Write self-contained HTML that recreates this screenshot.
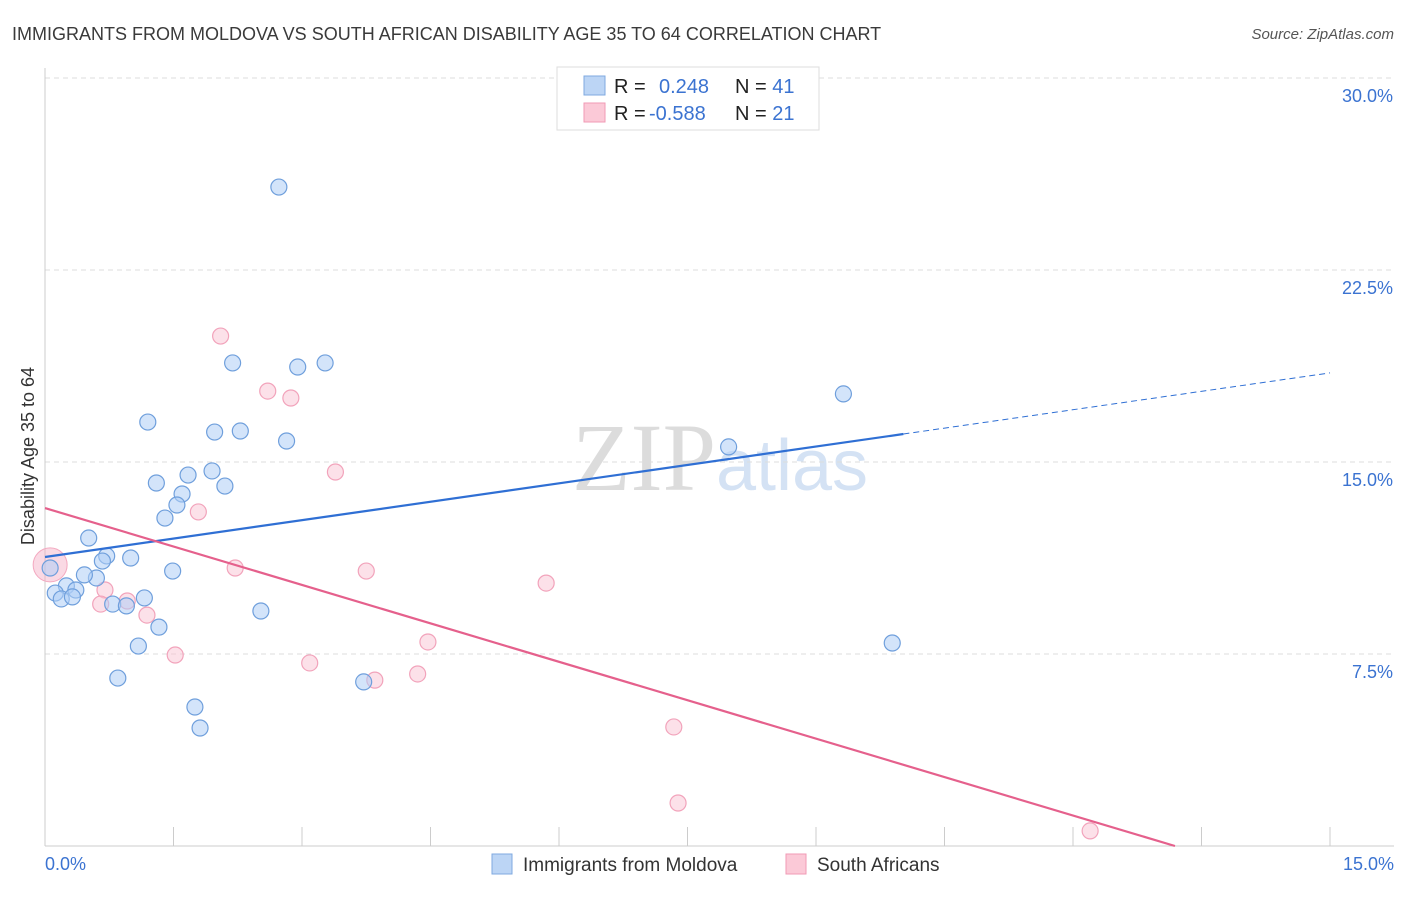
<!DOCTYPE html>
<html><head><meta charset="utf-8"><style>
body{margin:0;background:#fff;font-family:"Liberation Sans",sans-serif;}
svg text{font-family:"Liberation Sans",sans-serif;}
</style></head><body>
<svg id="chart" width="1406" height="892">
<text x="12" y="40" font-size="18" fill="#3a3a3a">IMMIGRANTS FROM MOLDOVA VS SOUTH AFRICAN DISABILITY AGE 35 TO 64 CORRELATION CHART</text>
<text x="1394" y="39" font-size="15" fill="#555" font-style="italic" text-anchor="end">Source: ZipAtlas.com</text>
<text x="720" y="490" font-size="96" fill="#e4e4e4" text-anchor="middle" font-family="Liberation Serif"><tspan font-family="Liberation Serif" fill="#dcdcdc">ZIP</tspan><tspan font-family="Liberation Sans" fill="#d4e2f4" font-size="72">atlas</tspan></text>
<text x="34" y="456" font-size="18" fill="#333" text-anchor="middle" transform="rotate(-90 34 456)">Disability Age 35 to 64</text>
<g id="grid"></g><g id="marks"></g>
<g>
<rect x="557" y="67" width="262" height="63" fill="#fff" stroke="#ddd"/>
<rect x="584" y="76" width="21" height="19" fill="#bcd5f5" stroke="#7fa9e0"/>
<rect x="584" y="103" width="21" height="19" fill="#fbc9d7" stroke="#f09ab4"/>
<text x="614" y="93" font-size="20" fill="#222">R = <tspan x="659" fill="#3b73d1">0.248</tspan><tspan x="735" fill="#222">N = </tspan><tspan fill="#3b73d1">41</tspan></text>
<text x="614" y="120" font-size="20" fill="#222">R = <tspan x="649" fill="#3b73d1">-0.588</tspan><tspan x="735" fill="#222">N = </tspan><tspan fill="#3b73d1">21</tspan></text>
</g>
<g>
<rect x="492" y="854" width="20" height="20" fill="#bcd5f5" stroke="#7fa9e0"/>
<text x="523" y="871" font-size="19" fill="#333">Immigrants from Moldova</text>
<rect x="786" y="854" width="20" height="20" fill="#fbc9d7" stroke="#f09ab4"/>
<text x="817" y="871" font-size="19" fill="#333">South Africans</text>
</g>
</svg>
<script>
const yTicks=[7.5,15,22.5,30];
const yTickLabels=["7.5%","15.0%","22.5%","30.0%"];
const xTicks=[0,1.5,3,4.5,6,7.5,9,10.5,12,13.5,15];
const blueX=[2.73,2.19,2.95,3.27,1.20,1.98,2.28,2.82,9.32,7.98,1.30,1.67,1.95,2.10,1.60,1.54,1.40,0.51,0.72,1.00,0.67,1.49,0.60,0.46,0.25,0.36,0.12,0.19,0.32,0.79,0.95,1.16,2.52,1.33,1.09,9.89,0.85,3.72,1.75,1.81,0.06];
const blueY=[25.74,18.87,18.71,18.87,16.56,16.17,16.21,15.82,17.66,15.59,14.18,14.49,14.65,14.06,13.75,13.32,12.81,12.03,11.33,11.25,11.13,10.74,10.47,10.59,10.16,10.00,9.88,9.65,9.73,9.45,9.38,9.69,9.18,8.55,7.81,7.93,6.56,6.41,5.43,4.61,10.86];
const pinkX=[2.05,2.60,2.87,3.39,1.79,2.22,3.75,5.85,0.70,0.65,0.96,1.19,4.47,1.52,3.09,3.85,4.35,7.34,7.39,12.20];
const pinkY=[19.92,17.77,17.50,14.61,13.05,10.86,10.74,10.27,10.00,9.45,9.57,9.02,7.97,7.46,7.15,6.48,6.72,4.65,1.68,0.59];
const blueTrend=[11.29,18.48]; const blueSolidEnd=10.02;
const pinkTrend=[13.20,0];
const X=v=>45+v*1285/15, Y=v=>846-v*192/7.5;
const NS="http://www.w3.org/2000/svg";
function mk(t,a,p){const e=document.createElementNS(NS,t);for(const k in a)e.setAttribute(k,a[k]);p.appendChild(e);return e;}
const g=document.getElementById('grid'),m=document.getElementById('marks');
yTicks.forEach((t,i)=>{
 const l=mk('line',{x1:45,x2:1394,y1:Y(t),y2:Y(t),stroke:'#ddd','stroke-dasharray':'5,4'},g);
 
 
 const tx=mk('text',{x:1393,y:Y(t)+24,'font-size':18,fill:'#3b73d1','text-anchor':'end'},g);
 tx.textContent=yTickLabels[i];
 
 
});
const ax=mk('line',{x1:45,x2:1394,y1:846,y2:846,stroke:'#ccc'},g);


const ay=mk('line',{x1:45,x2:45,y1:68,y2:846,stroke:'#ccc'},g);


xTicks.forEach(t=>{const l=mk('line',{x1:X(t),x2:X(t),y1:827,y2:846,stroke:'#ccc'},g);
 
 });
[['0.0%',45,'start'],['15.0%',1394,'end']].forEach(d=>{const t=mk('text',{x:d[1],y:870,'font-size':18,fill:'#3b73d1','text-anchor':d[2]},g);t.textContent=d[0];
 
 });
function dot(x,y,r,f,s,n){const c=mk('circle',{cx:X(x),cy:Y(y),r:r,fill:f,stroke:s,'stroke-width':1.2},m);
 
 }
mk('circle',{cx:X(0.06),cy:Y(10.98),r:17,fill:'rgba(245,170,195,0.45)',stroke:'#f3a9c0'},m);
pinkX.forEach((x,i)=>dot(x,pinkY[i],8,'rgba(250,195,212,0.5)','#f2a3bb','south-africans-point'));
blueX.forEach((x,i)=>dot(x,blueY[i],8,'rgba(175,205,245,0.55)','#6f9fdc','moldova-point'));
const bs=(blueTrend[1]-blueTrend[0])/15;
let l1=mk('line',{x1:X(0),y1:Y(blueTrend[0]),x2:X(blueSolidEnd),y2:Y(blueTrend[0]+bs*blueSolidEnd),stroke:'#2f6fd4','stroke-width':2.2},m);


let l2=mk('line',{x1:X(blueSolidEnd),y1:Y(blueTrend[0]+bs*blueSolidEnd),x2:X(15),y2:Y(blueTrend[1]),stroke:'#2f6fd4','stroke-width':1,'stroke-dasharray':'6,4'},m);


const ps=-pinkTrend[0]/13.19;
let l3=mk('line',{x1:X(0),y1:Y(pinkTrend[0]),x2:X(13.19),y2:Y(pinkTrend[0]+ps*13.19),stroke:'#e5608c','stroke-width':2.2},m);


</script>
</body></html>
